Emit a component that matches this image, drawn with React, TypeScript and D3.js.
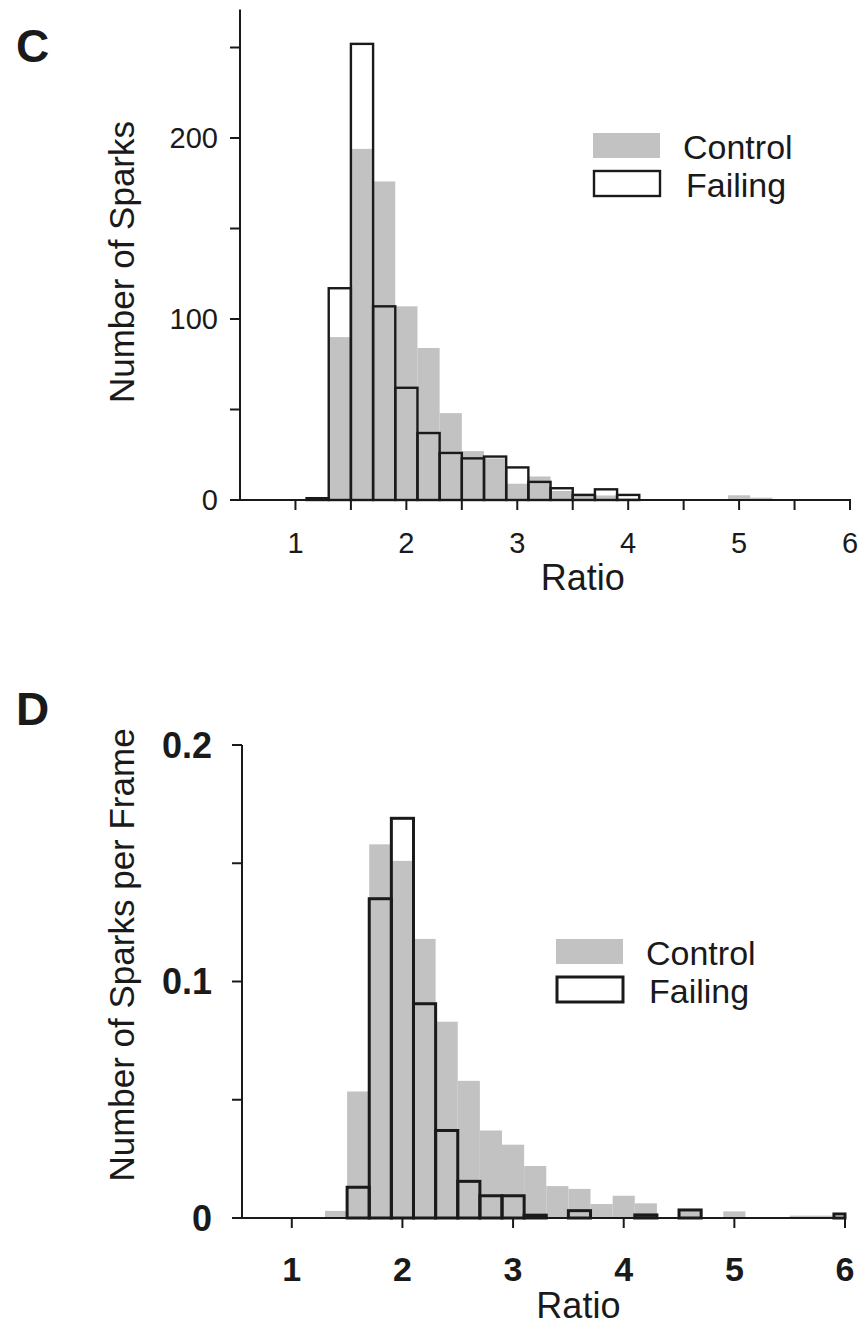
import React from 'react';
import * as d3 from 'd3';

// bin left edges (ratio), bins are 0.2 wide
const binStartsC = [1.1, 1.3, 1.5, 1.7, 1.9, 2.1, 2.3, 2.5, 2.7, 2.9, 3.1, 3.3, 3.5, 3.7, 3.9, 4.1, 4.3, 4.5, 4.7, 4.9, 5.1];
const controlC = [0, 90, 194, 176, 107, 84, 48, 27, 23, 9, 13, 5, 3.5, 2.5, 1, 0, 0, 0, 0, 2.6, 1.3];
const failingC = [1, 117, 252, 107, 62, 37, 26, 23, 24, 18, 10, 6.5, 2.8, 5.9, 2.8, 0, 0, 0, 0, 0, 0];

const binStartsD = [1.3, 1.5, 1.7, 1.9, 2.1, 2.3, 2.5, 2.7, 2.9, 3.1, 3.3, 3.5, 3.7, 3.9, 4.1, 4.3, 4.5, 4.7, 4.9, 5.1, 5.3, 5.5, 5.7, 5.9];
const controlD = [0.003, 0.0535, 0.158, 0.151, 0.118, 0.083, 0.058, 0.037, 0.031, 0.022, 0.0135, 0.0123, 0.0059, 0.0094, 0.0062, 0, 0.003, 0, 0.0028, 0, 0, 0.001, 0.001, 0];
const failingD = [0, 0.013, 0.135, 0.169, 0.0906, 0.037, 0.0155, 0.0094, 0.0094, 0.0012, 0, 0.0031, 0, 0, 0.0013, 0, 0.0034, 0, 0, 0, 0, 0, 0, 0.0017];

const xMajor = [1, 2, 3, 4, 5, 6];
const xMinorC = [1.5, 2.5, 3.5, 4.5, 5.5];
const yMajorC = [0, 100, 200];
const yMinorC = [50, 150, 250];
const yMajorD = [0, 0.1, 0.2];
const yMinorD = [0.05, 0.15];

const legendLabels = ['Control', 'Failing'];
const BIN = 0.2;
const FONT = '"Liberation Sans", Arial, Helvetica, sans-serif';
const GRAY = '#c2c2c2';
const INK = '#1a1a1a';

function Panel({ letter, letterY, bins, control, failing, xDomain, xRange, yDomain, yRange, yTop,
  yMajor, yMinor, xMinor, yFmt, bold, barStroke, yTitle, yTitleY, tickLabelSize, yLabelSize, yLabelGap,
  xLabelY, ratioY, legend }) {
  const x = d3.scaleLinear().domain(xDomain).range(xRange);
  const y = d3.scaleLinear().domain(yDomain).range(yRange);
  const x0 = xRange[0];
  const y0 = yRange[0];
  const clip = (v) => Math.min(v, xDomain[1]);
  const weight = bold ? 'bold' : 'normal';
  return (
    <g fontFamily={FONT}>
      <text x={16} y={letterY} fontSize={46} fontWeight="bold" fill={INK}>{letter}</text>
      {/* control bars */}
      {bins.map((b, i) => control[i] > 0 && (
        <rect key={'c' + i} x={x(b)} width={x(clip(b + BIN)) - x(b)} y={y(control[i])}
          height={y0 - y(control[i])} fill={GRAY} />
      ))}
      {/* failing bars */}
      {bins.map((b, i) => failing[i] > 0 && (
        <rect key={'f' + i} x={x(b)} width={x(clip(b + BIN)) - x(b)} y={y(failing[i])}
          height={y0 - y(failing[i])} fill="none" stroke={INK} strokeWidth={barStroke} />
      ))}
      {/* axes */}
      <line x1={x0} x2={x0} y1={y(yTop)} y2={y0} stroke={INK} strokeWidth={2} />
      <line x1={x0 - 10} x2={xRange[1] + 1} y1={y0} y2={y0} stroke={INK} strokeWidth={2.2} />
      {yMajor.concat(yMinor).map((v) => (
        <line key={'yt' + v} x1={x0 - 10} x2={x0} y1={y(v)} y2={y(v)} stroke={INK} strokeWidth={2} />
      ))}
      {yMajor.map((v) => (
        <text key={'yl' + v} x={x0 - yLabelGap} y={y(v)} dy="0.36em" textAnchor="end" fontSize={yLabelSize}
          fontWeight={weight} fill={INK}>{yFmt(v)}</text>
      ))}
      {xMajor.concat(xMinor).map((v) => (
        <line key={'xt' + v} x1={x(v)} x2={x(v)} y1={y0} y2={y0 + 10} stroke={INK} strokeWidth={2} />
      ))}
      {xMajor.map((v) => (
        <text key={'xl' + v} x={x(v)} y={xLabelY} textAnchor="middle" fontSize={tickLabelSize}
          fontWeight={weight} fill={INK}>{v}</text>
      ))}
      <text x={(x(2) + x(5)) / 2 + 10} y={ratioY} textAnchor="middle" fontSize={36} fill={INK}>Ratio</text>
      <text transform={`translate(134,${yTitleY}) rotate(-90)`} textAnchor="middle" fontSize={35} fill={INK}>{yTitle}</text>
      {/* legend */}
      <rect x={legend.x} y={legend.y} width={67} height={25} fill={GRAY} />
      <rect x={legend.x + 1} y={legend.y + 38} width={66} height={25} fill="#fff" stroke={INK} strokeWidth={barStroke} />
      <text x={legend.x + 90} y={legend.y + 26} fontSize={34} fill={INK}>{legendLabels[0]}</text>
      <text x={legend.x + 93} y={legend.y + 64} fontSize={34} fill={INK}>{legendLabels[1]}</text>
    </g>
  );
}

export default function App() {
  return (
    <svg width={866} height={1325} style={{ position: 'absolute', left: 0, top: 0, background: '#fff' }}>
      <Panel letter="C" letterY={62} bins={binStartsC} control={controlC} failing={failingC}
        xDomain={[0.5, 6]} xRange={[240, 850]} yDomain={[0, 100]} yRange={[500, 319]} yTop={271}
        yMajor={yMajorC} yMinor={yMinorC} xMinor={xMinorC} yFmt={(v) => String(v)} bold={false}
        barStroke={2.4} yTitle="Number of Sparks" yTitleY={262} tickLabelSize={29} yLabelSize={29} yLabelGap={22}
        xLabelY={553} ratioY={590} legend={{ x: 593, y: 133 }} />
      <Panel letter="D" letterY={725} bins={binStartsD} control={controlD} failing={failingD}
        xDomain={[0.55, 6]} xRange={[242, 845]} yDomain={[0, 0.2]} yRange={[1218, 745]} yTop={0.2}
        yMajor={yMajorD} yMinor={yMinorD} xMinor={[]} yFmt={(v) => (v === 0 ? '0' : String(v))} bold={true}
        barStroke={3} yTitle="Number of Sparks per Frame" yTitleY={955} tickLabelSize={34} yLabelSize={36} yLabelGap={30}
        xLabelY={1281} ratioY={1318} legend={{ x: 556, y: 939 }} />
    </svg>
  );
}
